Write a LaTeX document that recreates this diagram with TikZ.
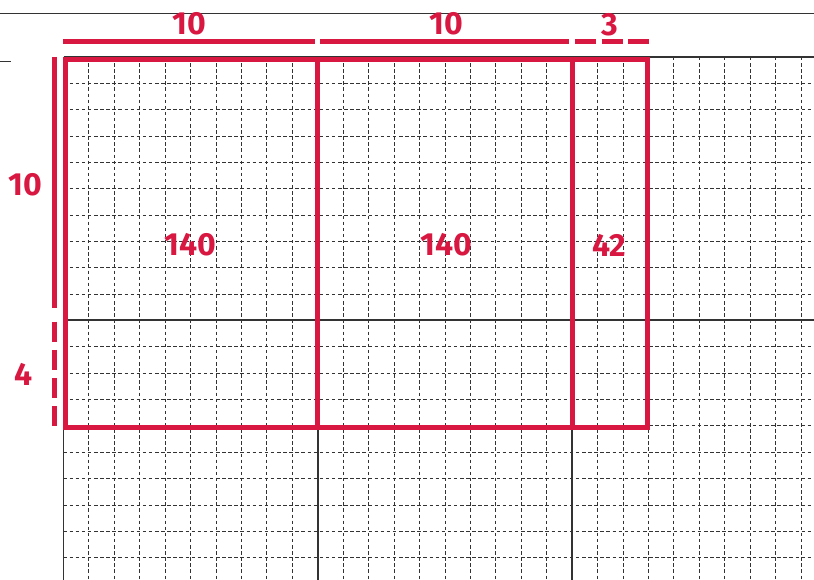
\documentclass[tikz,border=0pt]{standalone}
\usepackage{fontspec}
\setmainfont{Fira Sans}
\definecolor{dimred}{HTML}{D91842}
\begin{document}
\begin{tikzpicture}[x=1pt,y=-1pt,
  num/.style={text=dimred, font=\fontsize{32}{32}\selectfont\bfseries, inner sep=0pt},
  gridline/.style={line width=0.9pt, dash pattern=on 3.5pt off 2.6pt, color=black!80},
  solidline/.style={line width=1.5pt, color=black!80},
  redline/.style={line width=5pt, color=dimred},
  reddashtop/.style={redline, dash pattern=on 21pt off 5.65pt},
  reddashleft/.style={redline, dash pattern=on 20pt off 8.2pt}]
\useasboundingbox (0,0) rectangle (814,580);
\fill[white] (0,0) rectangle (814,580);
% dashed grid
\begin{scope}
\clip (63.5,57) rectangle (814,580);
\foreach \i in {1,...,29} \draw[gridline] ({63.5+25.43*\i},57) -- ++(0,523);
\foreach \j in {1,...,20} \draw[gridline] (63.5,{57+26.35*\j}) -- (814,{57+26.35*\j});
\end{scope}
% solid grid lines
\draw[solidline, line width=1.2pt] (0,13.3) -- (814,13.3);
\draw[solidline, line width=1.2pt] (0,61.7) -- (10.7,61.7);
\draw[solidline] (63.5,57) -- (814,57);
\draw[solidline] (63.5,320) -- (814,320);
\draw[solidline] (63.5,57) -- (63.5,580);
\draw[solidline] (318,57) -- (318,580);
\draw[solidline] (572,57) -- (572,580);
% red rectangles
\coordinate (tl) at (65.5,59.5);
\coordinate (br) at (647,427);
\draw[redline, line join=miter] (tl) rectangle (br);
\draw[redline] (317,59.5) -- (317,427);
\draw[redline] (572,59.5) -- (572,427);
% dimension lines
\draw[redline] (63,41.7) -- (315,41.7);
\draw[redline] (320,41.7) -- (569,41.7);
\draw[reddashtop] (575,41.7) -- (649.3,41.7);
\draw[redline] (54,57) -- (54,308);
\draw[reddashleft] (54,321.7) -- (54,429);
% labels
\node[num] (w1) at (189,24) {10};
\node[num] (w2) at (446,24) {10};
\node[num] (w3) at (610,24.5) {3};
\node[num] (h1) at (25.5,184.5) {10};
\node[num] (h2) at (24,374) {4};
\node[num] (a1) at (190.5,244.5) {140};
\node[num] (a2) at (446,244.5) {140};
\node[num] (a3) at (609,245) {42};
\end{tikzpicture}
\end{document}
